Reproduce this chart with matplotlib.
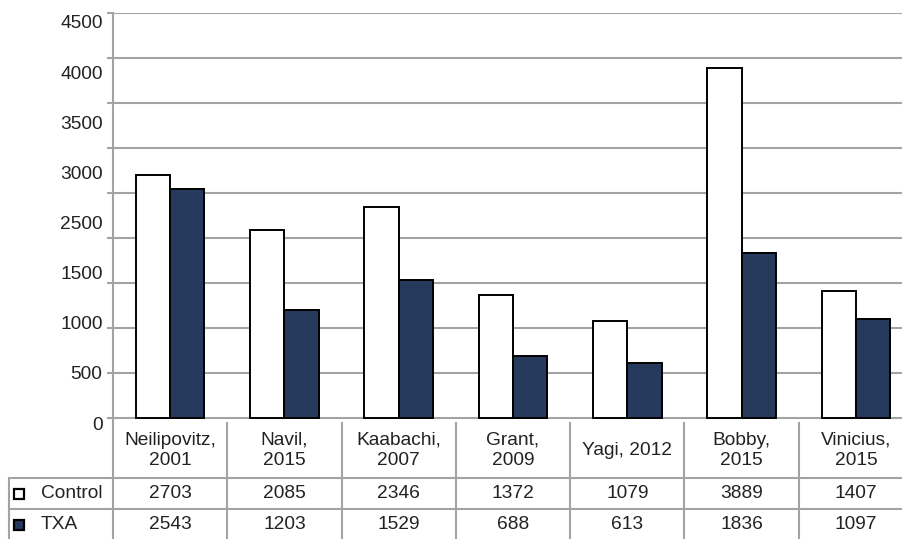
import numpy as np
import matplotlib
matplotlib.use('Agg')
import matplotlib.pyplot as plt

plt.rcParams['font.family'] = ['Liberation Sans', 'DejaVu Sans']

# data
studies = ['Neilipovitz,\n2001', 'Navil,\n2015', 'Kaabachi,\n2007', 'Grant,\n2009',
           'Yagi, 2012', 'Bobby,\n2015', 'Vinicius,\n2015']
control = [2703, 2085, 2346, 1372, 1079, 3889, 1407]
txa = [2543, 1203, 1529, 688, 613, 1836, 1097]
series_names = ['Control', 'TXA']
ytick_labels = ['4500', '4000', '3500', '3000', '2500', '1500', '1000', '500', '0']

grid_col = '#a3a3a3'
navy = '#263a5e'
txt_col = '#222222'
fs = 13.8

W, H = 903, 539
fig = plt.figure(figsize=(W / 100, H / 100), dpi=100)

# plot area (pixel layout of the reference)
x0, x1, y_top, y_zero = 113, 913, 13, 423
ax = fig.add_axes([x0 / W, (H - y_zero) / H, (x1 - x0) / W, (y_zero - y_top) / H])
x = np.arange(len(studies))
bw = 0.3
ax.bar(x - bw / 2, control, width=bw, color='white', edgecolor='black', linewidth=1.4, zorder=3)
ax.bar(x + bw / 2, txa, width=bw, color=navy, edgecolor='black', linewidth=1.4, zorder=3)
ax.set_xlim(-0.5, len(studies) - 0.5)
ax.set_ylim(0, 4500)
ax.set_xticks([])

# gridlines + tick stubs at every 500
ax.set_yticks(np.arange(0, 4501, 500), minor=True)
ax.grid(True, which='minor', axis='y', color=grid_col, linewidth=1.5, zorder=0)
ax.tick_params(axis='y', which='minor', length=4.5, width=1.5, color=grid_col)
# labels in the reference sit on their own, evenly spread (2000 missing)
ax.set_yticks(np.linspace(4401, -55, len(ytick_labels)))
ax.set_yticklabels(ytick_labels, fontsize=fs, color=txt_col)
ax.tick_params(axis='y', which='major', length=0, pad=7.5)
for s in ['top', 'right', 'bottom']:
    ax.spines[s].set_visible(False)
ax.spines['left'].set_color(grid_col)
ax.spines['left'].set_linewidth(1.5)

# data table below
tab = fig.add_axes([x0 / W, 0, (x1 - x0) / W, (H - y_zero) / H])
tab.set_xlim(-0.5, len(studies) - 0.5)
tab.set_ylim(H - y_zero, 0)
tab.axis('off')
left = (9 - x0) / 114.29 - 0.5
h_head, h_row = 55, 31
lw = 1.5
for k in range(len(studies) + 1):
    tab.plot([k - 0.5, k - 0.5], [0, H - y_zero], color=grid_col, lw=lw, clip_on=False)
tab.plot([left, left], [h_head, H - y_zero], color=grid_col, lw=lw, clip_on=False)
for yy in [h_head, h_head + h_row]:
    tab.plot([left, len(studies) - 0.5], [yy, yy], color=grid_col, lw=lw, clip_on=False)

for i, name in enumerate(studies):
    tab.text(i, h_head / 2, name, ha='center', va='center', fontsize=fs,
             color=txt_col, linespacing=1.3)
    tab.text(i, h_head + h_row / 2, str(control[i]), ha='center', va='center',
             fontsize=fs, color=txt_col)
    tab.text(i, h_head + h_row * 1.5, str(txa[i]), ha='center', va='center',
             fontsize=fs, color=txt_col)

for r, (nm, fc) in enumerate(zip(series_names, ['white', navy])):
    yc = h_head + h_row * (r + 0.5)
    tab.plot([(18.5 - x0) / 114.29 - 0.5], [yc], marker='s', ms=7.5, mfc=fc,
             mec='black', mew=1.6, clip_on=False)
    tab.text((41 - x0) / 114.29 - 0.5, yc, nm, ha='left', va='center',
             fontsize=fs, color=txt_col)

fig.savefig('out.png', dpi=100)
